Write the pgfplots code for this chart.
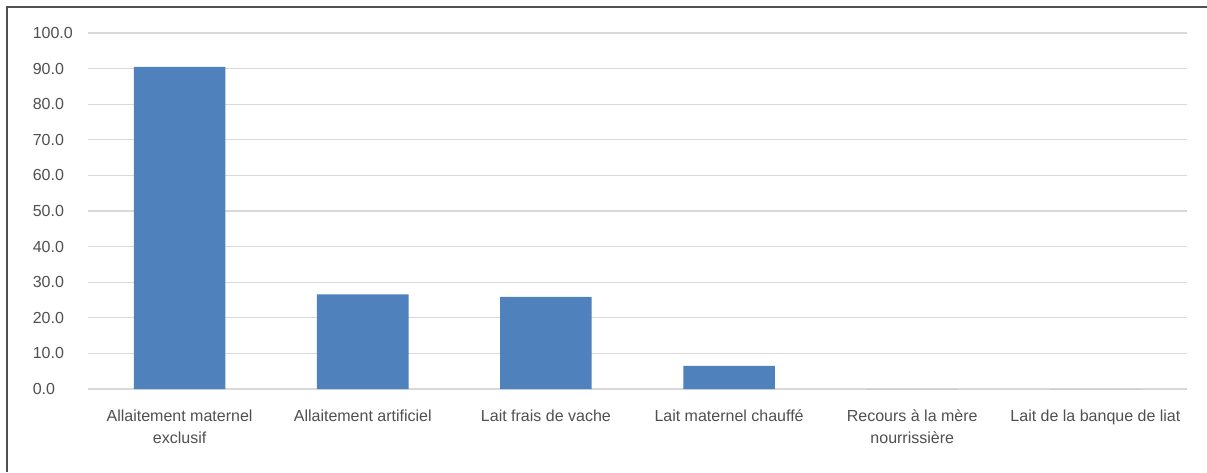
\documentclass[border=0pt]{standalone}
\usepackage{fontspec}
\setmainfont{Liberation Sans}
\usepackage{pgfplots}
\pgfplotsset{compat=1.18}
\definecolor{barblue}{HTML}{4F81BD}
\definecolor{gridgray}{HTML}{D9D9D9}
\definecolor{textgray}{HTML}{505050}
\definecolor{framegray}{HTML}{505050}
\begin{document}
\begin{tikzpicture}
\useasboundingbox (0,0) rectangle (1207pt,472pt);
\fill[white] (0,0) rectangle (1207pt,472pt);
% outer frame (top and left edges)
\draw[framegray, line width=1.5pt] (7pt,0) -- (7pt,465pt) -- (1207pt,465pt);
\begin{axis}[
  at={(88pt,83pt)}, anchor=south west,
  width=1099pt, height=356pt, scale only axis,
  xmin=-0.5, xmax=5.5, ymin=0, ymax=100,
  ytick={0,10,...,100},
  xtick={0,1,2,3,4,5},
  xticklabels={{Allaitement maternel\\exclusif},{Allaitement artificiel},{Lait frais de vache},{Lait maternel chauffé},{Recours à la mère\\nourrissière},{Lait de la banque de liat}},
  axis line style={draw=none},
  major tick length=0pt,
  ymajorgrids, grid style={gridgray, line width=1.3pt},
  /pgf/number format/assume math mode=true,
  font=\fontsize{16}{22}\selectfont\color{textgray},
  yticklabel={\makebox[50pt][l]{\pgfmathprintnumber[fixed,fixed zerofill,precision=1]{\tick}}},
  yticklabel style={anchor=east, inner sep=0pt, xshift=-5pt},
  xticklabel style={align=center, anchor=north, inner sep=0pt, yshift=-21pt},
  ybar, bar width=0.5,
]
\addplot[fill=barblue, draw=none] coordinates {(0,90.5) (1,26.6) (2,25.9) (3,6.5) (4,0) (5,0)};
\end{axis}
\end{tikzpicture}
\end{document}
